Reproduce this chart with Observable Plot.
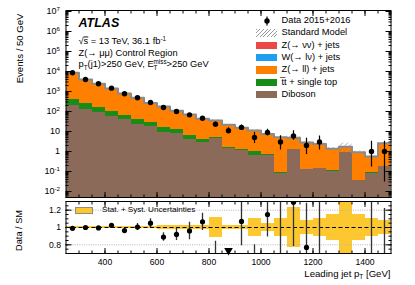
<!DOCTYPE html>
<html><head><meta charset="utf-8">
<script src="https://cdn.jsdelivr.net/npm/d3@7"></script>
<script src="https://cdn.jsdelivr.net/npm/@observablehq/plot@0.6"></script>
<style>
body{margin:0;background:#fff;}
#wrap{position:relative;width:415px;height:285px;overflow:hidden;font-family:"Liberation Sans",Arial,sans-serif;}
#wrap svg.panel{position:absolute;left:0;}
.lg{position:absolute;white-space:nowrap;color:#000;}
</style></head><body><div id="wrap"></div>
<script>
// ---------------- data ----------------
const binEdges = [250,300,350,400,450,500,550,600,650,700,750,800,850,900,950,1000,1050,1100,1150,1200,1250,1300,1350,1400,1450,1500];
const dataCounts  = [8600,3980,2430,1470,768,484,282,158,100,68,46,23,11,16,5,9,3,6,2,3,null,null,null,1,1];
const dataErrDown = [93,63,49,38,28,22,17,13,10,8,7,4.8,3.3,4,2.5,3,1.8,2.4,1.3,1.8,null,null,null,0.83,0.97];
const dataErrUp   = [93,63,49,38,28,22,17,13,10,8,7,5.8,4.4,5,3.8,4.1,3.1,4.8,2.6,3,null,null,null,2.3,2.3];
// stacked processes (bottom -> top)
const diboson = [200,133,89,58,38,23,17.8,9.2,7.7,4.0,2.9,4.6,1.41,1.12,0.61,0.63,0.079,1.22,0.122,0.136,0.104,0.86,0.035,0.079,0.178];
const ttbar   = [185,110,61,42,27,15,11.2,6.1,4.5,2.3,1.1,0.6,0.17,0.07,0.42,0.04,0.007,0.04,0.004,0.01,0.004,0.03,0.002,0.006,0.007];
const zll     = [8290,3730,2285,1327,729,443,239,162,96.5,64.5,38.9,30.2,19.9,14.06,10.13,6.8,5.09,3.62,2.66,2.25,1.25,0.855,0.88,0.47,2.41];
const wlnu    = [12,6,4,2.5,1.4,0.9,0.5,0.35,0.2,0.15,0.1,0.08,0.05,0.04,0.03,0.02,0.015,0.012,0.008,0.006,0.004,0.004,0.002,0.002,0.002];
const znunu   = [3,1.5,1,0.6,0.35,0.2,0.12,0.08,0.05,0.04,0.03,0.02,0.015,0.01,0.008,0.006,0.005,0.004,0.003,0.002,0.002,0.001,0.001,0.001,0.001];
const smRelUnc = [0.015,0.015,0.015,0.015,0.015,0.015,0.015,0.02,0.02,0.02,0.02,0.11,0.02,0.02,0.1,0.05,0.1,0.23,0.085,0.1,0.155,0.5,0.155,0.1,0.085];
const ratioValues = [0.99,1.0,0.995,1.025,0.965,1.005,1.05,0.89,0.92,0.96,1.065,0.65,0.5,1.07,0.46,1.15,0.62,1.29,0.77,1.38,null,null,null,1.78,0.38];
const ratioErr    = [0.012,0.012,0.012,0.015,0.02,0.04,0.05,0.05,0.07,0.1,0.1,0.19,0.15,0.28,0.34,0.26,0.75,0.51,0.51,0.8,null,null,null,1.5,0.84];
const yMajorTicks = [1e-2,1e-1,1,10,1e2,1e3,1e4,1e5,1e6,1e7];
const xMajorTicks = [400,600,800,1000,1200,1400];
const ratioTicks = [0.8,1,1.2];
const processNames = ["Diboson","t\u0305t + single top","Z(\u2192 ll) + jets","W(\u2192 l\u03bd) + jets","Z(\u2192 \u03bd\u03bd) + jets"];
const processColors = ["#8c6a5a","#178c17","#ff7f00","#1f9ef0","#ec4848"];
const processValues = [diboson, ttbar, zll, wlnu, znunu];

// ---------------- derived tables ----------------
const nb = binEdges.length - 1;
const bins = d3.range(nb).map(i => ({i, x1: binEdges[i], x2: binEdges[i+1], xc: (binEdges[i] + binEdges[i+1]) / 2}));
const cum = [];
processValues.forEach((vals, j) => cum.push(vals.map((v, i) => v + (j ? cum[j-1][i] : 0))));
const sm = cum[cum.length - 1];
const layers = processValues.map((vals, j) => bins.map(b => ({x1: b.x1, x2: b.x2, y1: j ? cum[j-1][b.i] : 1e-6, y2: cum[j][b.i]})));
const smStep = bins.map(b => ({x: b.x1, y: sm[b.i]})).concat([{x: binEdges[nb], y: sm[nb-1]}]);
const dataRows = bins.filter(b => dataCounts[b.i] != null).map(b => ({x: b.xc, y: dataCounts[b.i], lo: dataCounts[b.i] - dataErrDown[b.i], hi: dataCounts[b.i] + dataErrUp[b.i]}));
const ratioDomain = [0.7, 1.3];
const ratioRows = bins.filter(b => ratioValues[b.i] != null).map(b => ({x: b.xc, y: ratioValues[b.i], lo: ratioValues[b.i] - ratioErr[b.i], hi: ratioValues[b.i] + ratioErr[b.i]}));
const arrowRows = ratioRows.filter(d => d.hi < ratioDomain[0]);
const yMinor = [];
yMajorTicks.forEach(t => { for (let k = 2; k <= 9; k++) if (t * k < 1e7) yMinor.push(t * k); });
[5,6,7,8,9].forEach(k => yMinor.push(k * 1e-3));
const xMinor = d3.range(300, 1500, 50);
const rMinor = d3.range(0.7, 1.3001, 0.05).map(v => +v.toFixed(2));
const fmtPow = v => { const e = Math.round(Math.log10(v)); return e === 0 ? "1" : e === 1 ? "10" : `10^{${e}}`; };
const FONT = "'Liberation Sans',Arial,Helvetica,sans-serif";
const noLab = () => "";

// ---------------- main panel ----------------
const main = Plot.plot({
  width: 415, height: 199,
  marginLeft: 65.5, marginRight: 24.5, marginTop: 10, marginBottom: 2,
  style: `background:transparent;font-family:${FONT};overflow:visible;`,
  x: {domain: [250, 1500], axis: null},
  y: {type: "log", domain: [Math.pow(10, -2.3), Math.pow(10, 7.05)], axis: null},
  marks: [
    ...layers.map((rows, j) => Plot.rect(rows, {x1: "x1", x2: "x2", y1: "y1", y2: "y2", fill: processColors[j], clip: true, shapeRendering: "crispEdges"})),
    Plot.rect(bins, {x1: "x1", x2: "x2", y1: d => sm[d.i] * (1 - smRelUnc[d.i]), y2: d => sm[d.i] * (1 + smRelUnc[d.i]), fill: "url(#hatchSM)", clip: true}),
    Plot.line(smStep, {x: "x", y: "y", curve: "step-after", stroke: "#8a8a8a", strokeWidth: 2, clip: true}),
    Plot.ruleX(dataRows, {x: "x", y1: "lo", y2: "hi", stroke: "black", strokeWidth: 1.2, clip: true}),
    Plot.dot(dataRows, {x: "x", y: "y", r: 2.7, fill: "black", stroke: null}),
    Plot.frame({stroke: "black", strokeWidth: 1}),
    Plot.axisY({ticks: yMajorTicks, tickSize: 0, tickPadding: 6, tickFormat: fmtPow, label: null, fontSize: 9}),
    Plot.axisY({ticks: yMajorTicks, tickSize: -6, tickFormat: noLab, label: null}),
    Plot.axisY({ticks: yMinor, tickSize: -3, tickFormat: noLab, label: null}),
    Plot.axisY({anchor: "right", ticks: yMajorTicks, tickSize: -6, tickFormat: noLab, label: null}),
    Plot.axisY({anchor: "right", ticks: yMinor, tickSize: -3, tickFormat: noLab, label: null}),
    Plot.axisX({anchor: "bottom", ticks: xMajorTicks, tickSize: -5, tickFormat: noLab, label: null}),
    Plot.axisX({anchor: "bottom", ticks: xMinor, tickSize: -2.5, tickFormat: noLab, label: null}),
    Plot.axisX({anchor: "top", ticks: xMajorTicks, tickSize: -5, tickFormat: noLab, label: null}),
    Plot.axisX({anchor: "top", ticks: xMinor, tickSize: -2.5, tickFormat: noLab, label: null}),
    Plot.text(["ATLAS"], {text: d => d, frameAnchor: "top-left", dx: 12.5, dy: 12.5, textAnchor: "start", lineAnchor: "middle", fontSize: 12.5, fontWeight: "bold", fontStyle: "italic"}),
    Plot.text(["\u221a~{s} = 13 TeV, 36.1 fb^{-1}"], {text: d => d, frameAnchor: "top-left", dx: 12.5, dy: 31, textAnchor: "start", lineAnchor: "middle", fontSize: 9.3}),
    Plot.text(["Z(\u2192 \u03bc\u03bc) Control Region"], {text: d => d, frameAnchor: "top-left", dx: 12.5, dy: 42.5, textAnchor: "start", lineAnchor: "middle", fontSize: 9.3}),
    Plot.text(["p_{T}(j1)>250 GeV, E_{T}^{miss}>250 GeV"], {text: d => d, frameAnchor: "top-left", dx: 12.5, dy: 54, textAnchor: "start", lineAnchor: "middle", fontSize: 9.3}),
    Plot.text(["Events / 50 GeV"], {text: d => d, frameAnchor: "top-left", dx: -46.5, dy: 3, rotate: -90, textAnchor: "end", lineAnchor: "middle", fontSize: 9.6})
  ]
});
main.setAttribute("class", (main.getAttribute("class") || "") + " panel");
main.style.top = "0px";

// ---------------- ratio panel ----------------
const ratio = Plot.plot({
  width: 415, height: 90,
  marginLeft: 65.5, marginRight: 24.5, marginTop: 6, marginBottom: 32,
  style: `background:transparent;font-family:${FONT};overflow:visible;`,
  x: {domain: [250, 1500], axis: null},
  y: {domain: ratioDomain, axis: null},
  marks: [
    Plot.rect(bins, {x1: "x1", x2: "x2", y1: d => 1 - smRelUnc[d.i], y2: d => 1 + smRelUnc[d.i], fill: "#fdc82f", clip: true, shapeRendering: "crispEdges"}),
    Plot.ruleY([ratioTicks[0], ratioTicks[2]], {stroke: "#b4b4b4", strokeWidth: 1, strokeDasharray: "1,1.3"}),
    Plot.ruleY([ratioTicks[1]], {stroke: "black", strokeWidth: 1, strokeDasharray: "4,2.5"}),
    Plot.ruleX(ratioRows, {x: "x", y1: "lo", y2: "hi", stroke: "#333", strokeWidth: 1.3, clip: true}),
    Plot.dot(ratioRows, {x: "x", y: "y", r: 2.6, fill: "black", stroke: null, clip: true}),
    Plot.dot(arrowRows, {x: "x", y: () => ratioDomain[0] + 0.035, symbol: "triangle", rotate: 180, r: 3.2, fill: "black", stroke: null}),
    Plot.frame({stroke: "black", strokeWidth: 1}),
    Plot.axisY({ticks: ratioTicks, tickSize: 0, tickPadding: 5, tickFormat: d => String(d), label: null, fontSize: 8.6}),
    Plot.axisY({ticks: ratioTicks, tickSize: -6, tickFormat: noLab, label: null}),
    Plot.axisY({ticks: rMinor, tickSize: -3, tickFormat: noLab, label: null}),
    Plot.axisY({anchor: "right", ticks: ratioTicks, tickSize: -6, tickFormat: noLab, label: null}),
    Plot.axisY({anchor: "right", ticks: rMinor, tickSize: -3, tickFormat: noLab, label: null}),
    Plot.axisX({anchor: "bottom", ticks: xMajorTicks, tickSize: 0, tickPadding: 5, tickFormat: d => String(d), label: null, fontSize: 8.6}),
    Plot.axisX({anchor: "bottom", ticks: xMajorTicks, tickSize: -5, tickFormat: noLab, label: null}),
    Plot.axisX({anchor: "bottom", ticks: xMinor, tickSize: -2.5, tickFormat: noLab, label: null}),
    Plot.axisX({anchor: "top", ticks: xMajorTicks, tickSize: -5, tickFormat: noLab, label: null}),
    Plot.axisX({anchor: "top", ticks: xMinor, tickSize: -2.5, tickFormat: noLab, label: null}),
    Plot.text(["Data / SM"], {text: d => d, frameAnchor: "left", dx: -46.5, dy: 3, rotate: -90, textAnchor: "middle", lineAnchor: "middle", fontSize: 9.2}),
    Plot.text(["Leading jet p_{T} [GeV]"], {text: d => d, frameAnchor: "bottom-right", dx: -0.5, dy: 23, textAnchor: "end", lineAnchor: "bottom", fontSize: 9.6})
  ]
});
ratio.setAttribute("class", (ratio.getAttribute("class") || "") + " panel");
ratio.style.top = "195px";

const wrap = document.getElementById("wrap");
wrap.appendChild(main);
wrap.appendChild(ratio);

// hatch pattern for the SM uncertainty band
d3.select(main).insert("defs", ":first-child").html(
  `<pattern id="hatchSM" patternUnits="userSpaceOnUse" width="3.5" height="3.5" patternTransform="rotate(45)"><line x1="0" y1="0" x2="0" y2="3.5" stroke="#7a7a7a" stroke-width="0.9"/></pattern>`);

// rich text: ^{sup}, _{sub}, ~{overline}
function richify(root) {
  const ns = "http://www.w3.org/2000/svg";
  root.querySelectorAll("text").forEach(t => {
    const s = t.textContent;
    if (!/[\^_~]\{/.test(s)) return;
    const fs = parseFloat(getComputedStyle(t).fontSize) || 9;
    const re = /([\^_~])\{([^}]*)\}/g;
    const parts = []; let last = 0, m;
    while ((m = re.exec(s))) {
      if (m.index > last) parts.push({t: s.slice(last, m.index), k: ""});
      parts.push({t: m[2], k: m[1]});
      last = re.lastIndex;
    }
    if (last < s.length) parts.push({t: s.slice(last), k: ""});
    t.textContent = "";
    let cur = 0, prev = null;
    parts.forEach((p, i) => {
      const ts = document.createElementNS(ns, "tspan");
      const shift = p.k === "^" ? -0.42 * fs : p.k === "_" ? 0.25 * fs : 0;
      if (shift - cur !== 0) ts.setAttribute("dy", shift - cur);
      cur = shift;
      if (p.k === "^" || p.k === "_") ts.setAttribute("font-size", (0.68 * fs).toFixed(2));
      if (p.k === "~") ts.setAttribute("text-decoration", "overline");
      if (p.k === "^" && i > 0 && parts[i-1].k === "_" && prev) ts.setAttribute("dx", -prev.getComputedTextLength());
      ts.textContent = p.t;
      t.appendChild(ts);
      prev = ts;
    });
  });
}
richify(main);
richify(ratio);

// ---------------- legends ----------------
const legendLabels = ["Data 2015+2016", "Standard Model", processNames[4], processNames[3], processNames[2], processNames[1], processNames[0]];
const legendKinds = ["data", "hatch", processColors[4], processColors[3], processColors[2], processColors[1], processColors[0]];
legendLabels.forEach((lab, i) => {
  const cy = 20.7 + i * 12.33;
  const kind = legendKinds[i];
  if (kind === "data") {
    const sv = d3.select(wrap).append("svg").attr("width", 22).attr("height", 12)
      .style("position", "absolute").style("left", "255.5px").style("top", (cy - 6) + "px");
    sv.append("line").attr("x1", 11).attr("x2", 11).attr("y1", 1.5).attr("y2", 10.5).attr("stroke", "black").attr("stroke-width", 1.2);
    sv.append("circle").attr("cx", 11).attr("cy", 6).attr("r", 2.7).attr("fill", "black");
  } else {
    const sw = d3.select(wrap).append("div").style("position", "absolute").style("left", "255.5px")
      .style("top", (cy - 3.8) + "px").style("width", "21.5px").style("height", "7.6px");
    if (kind === "hatch") sw.style("background", "repeating-linear-gradient(135deg,#9a9a9a 0 0.8px,#fff 0.8px 2.6px)");
    else sw.style("background", kind);
  }
  d3.select(wrap).append("div").attr("class", "lg").text(lab)
    .style("left", "281.5px").style("top", (cy - 5.6) + "px").style("font-size", "9.3px").style("line-height", "11px");
});
// ratio legend
d3.select(wrap).append("div").style("position", "absolute").style("left", "75px").style("top", "207px")
  .style("width", "17.5px").style("height", "6.5px").style("background", "#fdc82f").style("border", "1px solid #8c8c8c").style("box-sizing", "border-box");
d3.select(wrap).append("div").attr("class", "lg").text("Stat. + Syst. Uncertainties")
  .style("left", "102px").style("top", "205px").style("font-size", "8.1px").style("line-height", "10px");
</script>
</body></html>
